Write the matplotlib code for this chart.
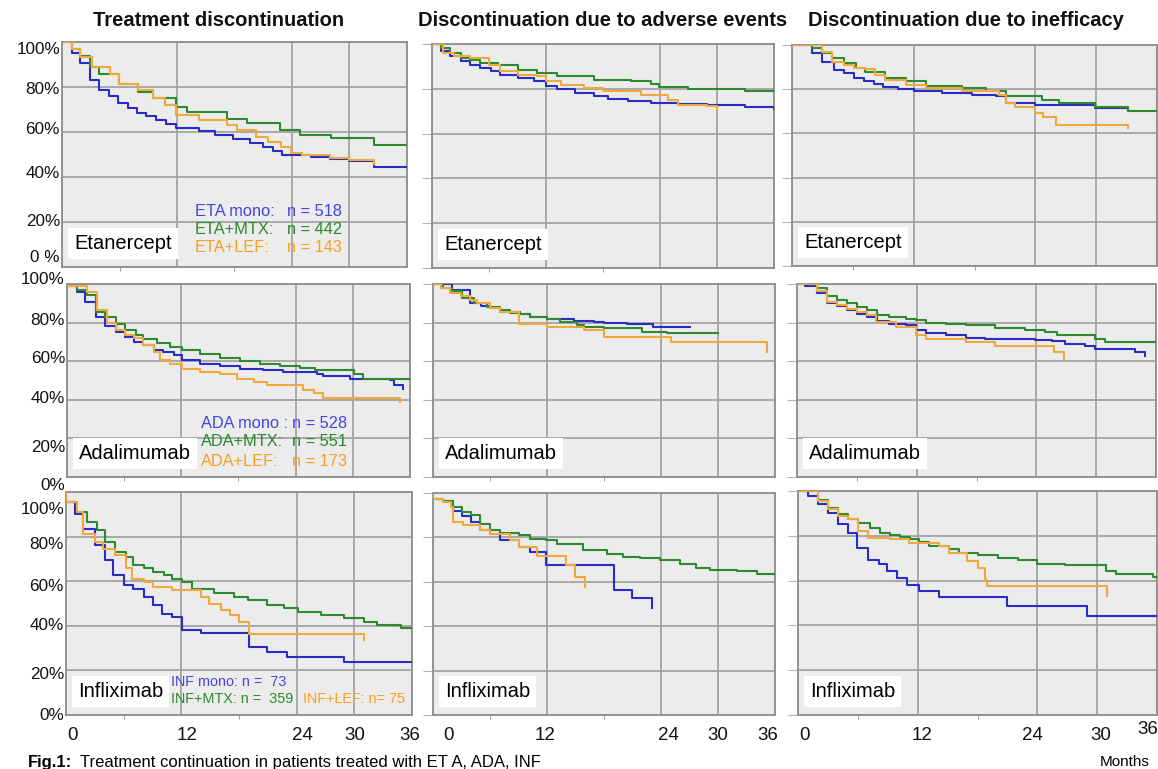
import matplotlib
matplotlib.use("Agg")
import matplotlib.pyplot as plt
from matplotlib.transforms import ScaledTranslation, blended_transform_factory

plt.rcParams['font.family'] = ['Liberation Sans', 'DejaVu Sans']

# ---------------- data (months, % still on treatment) ----------------
col_titles = ["Treatment discontinuation",
              "Discontinuation due to adverse events",
              "Discontinuation due to inefficacy"]
row_names = ["Etanercept", "Adalimumab", "Infliximab"]
x_ticks = [0, 12, 24, 30, 36]
y_ticks = [0, 20, 40, 60, 80, 100]

# Etanercept - treatment discontinuation
eta_td_mono_t = [0, 1.0, 1.9, 2.9, 3.9, 4.9, 5.8, 6.9, 7.8, 8.8, 9.8, 10.8, 11.9, 14.3, 16.0, 17.8, 19.6, 21.0, 22.0, 23.0, 26.0, 28.0, 30.0, 32.6, 36]
eta_td_mono_y = [100, 95, 90.5, 83, 78.7, 76, 73, 70.5, 68.5, 67, 65.5, 63.5, 62, 60.5, 58.5, 57, 55, 53.5, 51.5, 50, 49, 48, 47, 44.5, 44.5]
eta_td_mtx_t = [0, 1.0, 1.9, 2.9, 3.9, 5.9, 7.9, 9.5, 11.9, 13.0, 17.2, 19.3, 22.7, 24.8, 28.1, 32.6, 36]
eta_td_mtx_y = [100, 97, 94, 89, 86, 81.5, 78, 75, 71.3, 69, 66, 63.8, 61, 58.7, 57.2, 54.2, 54.2]
eta_td_lef_t = [0, 1.0, 1.9, 3.1, 5.0, 5.9, 7.9, 9.5, 10.7, 11.9, 14.3, 17.2, 18.3, 20.2, 21.5, 22.8, 23.9, 25.0, 28.0, 30.0, 32.6]
eta_td_lef_y = [100, 97, 93.5, 89, 86, 81.5, 78.7, 75, 72, 67.7, 65.5, 63, 61, 58, 55.7, 53.5, 50.5, 49.6, 48.5, 47.5, 46]

# Etanercept - adverse events
eta_ae_mono_t = [0, 0.9, 1.9, 3.0, 4.0, 5.1, 6.2, 7.2, 9.0, 10.7, 12.0, 13.2, 15.0, 17.1, 18.5, 20.6, 23.1, 25.9, 29.0, 32.9, 36]
eta_ae_mono_y = [100, 96.8, 94.6, 92.3, 90.8, 89.3, 87.8, 86.3, 84.8, 83.3, 81.1, 79.9, 78.1, 76.6, 75.4, 74.7, 73.6, 73.3, 72.9, 71.9, 71]
eta_ae_mtx_t = [0, 0.9, 1.9, 3.0, 4.0, 5.1, 6.9, 9.0, 11.1, 13.2, 17.1, 21.0, 23.1, 23.9, 26.9, 32.9, 36]
eta_ae_mtx_y = [100, 98.2, 96, 93.8, 92.8, 91.6, 90.6, 88.6, 87.1, 85.9, 84, 83.4, 82.2, 80.7, 80, 79.2, 79.2]
eta_ae_lef_t = [0, 1.2, 2.3, 4.0, 6.0, 7.2, 9.0, 11.1, 12.0, 13.6, 16.0, 18.0, 22.0, 24.8, 25.9, 29.0, 30.0]
eta_ae_lef_y = [100, 96, 94.6, 93.8, 90.8, 87.8, 86.3, 85.5, 83.3, 81.8, 80.3, 78.9, 77.4, 75.2, 72.9, 72.2, 70.7]

# Etanercept - inefficacy
eta_ie_mono_t = [0, 2.0, 3.0, 4.1, 5.1, 6.1, 7.1, 8.1, 9.0, 10.5, 12.0, 14.8, 17.8, 20.1, 21.1, 24.0, 29.9, 33.1]
eta_ie_mono_y = [100, 96.5, 92.5, 88.7, 87.2, 85, 83.5, 82.4, 81.2, 80, 79.2, 78.2, 77.4, 76.7, 73.6, 72.9, 71.4, 70.7]
eta_ie_mtx_t = [0, 2.0, 3.0, 3.9, 5.1, 6.3, 7.2, 9.2, 11.2, 13.2, 16.8, 19.1, 21.1, 24.7, 26.3, 29.9, 33.1, 36]
eta_ie_mtx_y = [100, 98.6, 96.2, 94, 91.7, 89.5, 88, 85, 83.5, 81.5, 80.4, 79, 77, 75.1, 73.6, 72.1, 70.3, 70.3]
eta_ie_lef_t = [0, 3.0, 3.9, 5.1, 6.1, 7.2, 8.2, 9.2, 11.2, 13.2, 16.8, 20.4, 21.1, 22.0, 24.0, 24.8, 26.0, 33.1]
eta_ie_lef_y = [100, 97, 92.5, 91, 89.5, 89, 86.5, 84.2, 82, 80.4, 79, 77.4, 73.6, 72.1, 69.1, 67.3, 63.8, 62.3]

# Adalimumab - treatment discontinuation
ada_td_mono_t = [0, 1.0, 1.9, 3.0, 4.0, 5.1, 6.1, 7.0, 8.0, 9.1, 10.1, 11.2, 12.1, 14.0, 16.1, 18.2, 20.6, 22.7, 26.2, 26.9, 29.7, 33.9, 34.3, 35.3]
ada_td_mono_y = [99, 96, 90.5, 83, 78, 75.3, 72.7, 70, 68.3, 65.7, 64.9, 63.1, 60.6, 58.8, 57.6, 56.2, 55.4, 54.5, 53.6, 52.2, 51, 50.2, 47.6, 45.8]
ada_td_mtx_t = [0, 1.0, 2.1, 3.0, 4.0, 5.1, 6.1, 7.2, 8.0, 9.4, 10.8, 12.1, 14.0, 16.1, 18.2, 20.3, 22.4, 24.5, 26.0, 30.1, 31.1, 36]
ada_td_mtx_y = [99, 96.9, 94.3, 85.6, 83, 79.2, 76.1, 73.5, 71.3, 69.2, 67.5, 65.7, 63.7, 61.9, 60.2, 58.8, 57.4, 56.6, 55.4, 53.6, 51, 51]
ada_td_lef_t = [0, 2.1, 3.1, 4.2, 5.1, 6.1, 7.0, 8.0, 9.1, 9.8, 10.8, 12.1, 14.0, 16.1, 17.8, 19.6, 21.0, 24.8, 25.9, 26.9, 35.0]
ada_td_lef_y = [99, 96, 86.5, 79.6, 76.1, 73.5, 71.8, 68.3, 64.9, 60.6, 58.8, 56.2, 54.5, 53.6, 51, 49.3, 47.6, 45, 43.3, 40.7, 38.9]

# Adalimumab - adverse events
ada_ae_mono_t = [0, 2.0, 3.9, 5.0, 6.0, 7.1, 9.2, 10.2, 12.0, 14.8, 16.9, 18.0, 20.4, 23.2, 27.1]
ada_ae_mono_y = [100, 97, 90, 88.7, 87.5, 85.7, 84.5, 83.1, 81.7, 81, 80.5, 79.7, 79.1, 77.9, 77.9]
ada_ae_mtx_t = [0, 1.1, 2.0, 3.1, 4.3, 5.7, 7.1, 8.1, 9.2, 10.2, 12.0, 13.4, 15.2, 15.9, 18.0, 22.0, 24.6, 30.0]
ada_ae_mtx_y = [100, 97.9, 96.2, 92.7, 90.1, 88.3, 86.6, 85.2, 84.3, 83.1, 81.7, 80.5, 78.8, 77.9, 77, 75.3, 74.4, 74.4]
ada_ae_lef_t = [0, 0.8, 1.8, 2.9, 3.9, 4.6, 6.0, 7.1, 9.0, 12.0, 15.9, 18.0, 25.0, 35.2]
ada_ae_lef_y = [100, 97.9, 95.3, 93.9, 91.8, 90, 87.5, 85.7, 79.3, 77.9, 76.2, 72.7, 70.1, 64.9]

# Adalimumab - inefficacy
ada_ie_mono_t = [0, 0.8, 2, 3, 4, 5, 6, 7, 8, 9.2, 10.9, 11.9, 12.9, 14.9, 16.9, 18.9, 23.9, 25.6, 26.9, 28.9, 29.9, 33.9, 34.9]
ada_ie_mono_y = [100, 99, 95.1, 89.9, 88.5, 86.5, 84.7, 83, 80.9, 79.5, 78.6, 76, 74.7, 73.4, 72.2, 71.7, 71.2, 70.5, 69.1, 67.7, 66.5, 64.8, 62.5]
ada_ie_mtx_t = [0, 2, 3, 4, 5, 6, 7, 8, 9.2, 10.9, 11.9, 12.9, 14.9, 16.9, 19.9, 22.9, 24.9, 26.1, 29.9, 30.9, 36]
ada_ie_mtx_y = [100, 97.7, 93.7, 91.7, 89.9, 88.2, 86.5, 83.9, 83, 82.1, 81.3, 80, 79.2, 78.6, 77.4, 76.4, 75.2, 73.4, 71.7, 70, 70]
ada_ie_lef_t = [0, 2, 3, 4, 5, 6, 7, 7.9, 9.9, 11.9, 12.9, 16.9, 19.9, 25.8, 26.8]
ada_ie_lef_y = [100, 96.5, 90.8, 89.1, 87.3, 85.6, 83.9, 80.4, 77.8, 73.4, 71.7, 70, 67.7, 64.8, 61.3]

# Infliximab - treatment discontinuation
inf_td_mono_t = [0, 0.05, 0.9, 1.8, 3.0, 4.1, 4.9, 6.0, 7.0, 8.1, 9.1, 10.0, 11.0, 12.1, 14.0, 19.0, 20.9, 23.0, 28.9, 36]
inf_td_mono_y = [100, 95.5, 90.3, 83.6, 76.1, 69.4, 62.7, 58.2, 56.3, 53, 49.3, 45.5, 44, 38.1, 36.6, 30.6, 28.4, 26.1, 23.9, 23.9]
inf_td_mtx_t = [0, 0.05, 1.1, 2.2, 3.2, 4.1, 5.1, 6.2, 7.0, 8.1, 9.1, 10.2, 11.0, 12.1, 13.1, 15.4, 17.5, 18.9, 20.9, 22.7, 24.1, 26.5, 28.9, 31.0, 32.4, 34.9, 36]
inf_td_mtx_y = [100, 95.5, 91, 86.6, 82.8, 77.6, 73.1, 70.9, 67.2, 65.7, 64.2, 62.7, 61.2, 59.7, 56.7, 54.5, 53, 51.5, 49.3, 47.8, 46.3, 44.8, 43.3, 41.8, 40.3, 38.8, 38.8]
inf_td_lef_t = [0, 0.05, 1.1, 1.8, 3.0, 3.9, 5.1, 6.2, 6.9, 8.1, 9.1, 11.0, 14.0, 14.9, 16.1, 17.1, 18.0, 19.0, 31.0]
inf_td_lef_y = [100, 95.5, 91, 81.3, 77.6, 74.6, 71.6, 65.7, 61.2, 59.7, 57.5, 56, 53, 50, 47, 44.8, 41.8, 36.3, 33.6]

# Infliximab - adverse events
inf_ae_mono_t = [0, 0.05, 1.1, 2.1, 3.0, 4.0, 4.9, 6.0, 7.0, 9.1, 10.2, 11.9, 19.0, 20.9, 23.0]
inf_ae_mono_y = [100, 97.5, 96.4, 91.9, 89.5, 87, 83.2, 81.7, 78.7, 75.7, 73.5, 67.5, 56.2, 52.5, 48]
inf_ae_mtx_t = [0, 0.05, 1.1, 2.1, 3.0, 4.0, 4.9, 6.0, 7.0, 9.1, 10.2, 11.9, 13.0, 15.8, 18.3, 20.0, 21.8, 23.9, 26.0, 27.7, 29.2, 32.0, 34.1, 36]
inf_ae_mtx_y = [100, 97.5, 96.4, 93.7, 91.5, 90, 86.2, 83.5, 82, 81, 79.5, 78.7, 77.2, 74.2, 72.4, 71.2, 70.5, 69.7, 68.2, 66.4, 65.5, 64.9, 63.4, 63.4]
inf_ae_lef_t = [0, 0.05, 1.1, 1.9, 2.1, 3.2, 4.9, 6.0, 8.1, 9.1, 10.9, 14.0, 14.9, 16.0]
inf_ae_lef_y = [100, 97.5, 96, 93.7, 87, 85.5, 83.5, 81.7, 78.7, 75.7, 71.5, 67.5, 62.2, 57.7]

# Infliximab - inefficacy
inf_ie_mono_t = [0, 1.0, 2.0, 3.0, 4.0, 5.0, 5.9, 7.0, 8.1, 8.9, 9.9, 10.9, 12.1, 14.1, 21.0, 29.0, 36]
inf_ie_mono_y = [100, 97.8, 94, 90.3, 85.1, 81.3, 74.6, 69.4, 67.2, 64.2, 61.2, 58.2, 55.2, 52.5, 48.5, 44, 44]
inf_ie_mtx_t = [0, 2.0, 3.0, 4.0, 5.0, 6.0, 7.2, 8.2, 9.2, 10.2, 11.2, 12.1, 13.1, 15.1, 16.1, 18.1, 20.1, 22.1, 24.0, 26.8, 30.9, 31.9, 35.6, 36]
inf_ie_mtx_y = [100, 95.8, 92.5, 89.9, 87.6, 85.8, 83.6, 81.3, 80.3, 79.4, 78.4, 77.2, 75.4, 73.9, 72.4, 71.3, 70.1, 69, 67.5, 66.9, 64.5, 63, 61.5, 61.5]
inf_ie_lef_t = [0, 2.0, 3.0, 4.0, 5.0, 6.0, 7.0, 9.2, 11.1, 14.1, 15.1, 16.9, 18.0, 18.8, 19.0, 31.0]
inf_ie_lef_y = [100, 95.5, 91.8, 88.8, 87.3, 82.1, 79.1, 78.4, 76.9, 75.4, 72.4, 68.7, 65.7, 60.4, 57.5, 53]

# legend text for the first column
eta_groups = ["ETA mono:", "ETA+MTX:", "ETA+LEF:"]
eta_n = ["n = 518", "n = 442", "n = 143"]
ada_groups = ["ADA mono :", "ADA+MTX:", "ADA+LEF:"]
ada_n = ["n = 528", "n = 551", "n = 173"]
inf_legend = ["INF mono: n =  73", "INF+MTX: n =  359", "INF+LEF: n= 75"]

caption_bold = "Fig.1:"
caption_text = "Treatment continuation in patients treated with ET A, ADA, INF"
x_unit = "Months"

# ---------------- styling ----------------
W, H = 1158, 769
fig = plt.figure(figsize=(W / 100, H / 100), dpi=100)

LINE_C = ['#2b2bc8', '#2e8a2e', '#f2a93b']   # mono, +MTX, +LEF
TEXT_C = ['#4545e0', '#2a8a2a', '#f5a01f']
BG = '#ececec'
GRID = '#a3a3a3'
SPINE = '#8e8e8e'

boxes = [[(62, 42, 407, 267), (432, 44, 774, 268), (792, 45, 1157, 266)],
         [(67, 284, 410, 477), (433, 284, 775, 477), (797, 284, 1156, 477)],
         [(66, 492, 412, 715), (433, 493, 775, 715), (798, 491, 1157, 715)]]

series = [
    [[(eta_td_mono_t, eta_td_mono_y), (eta_td_mtx_t, eta_td_mtx_y), (eta_td_lef_t, eta_td_lef_y)],
     [(eta_ae_mono_t, eta_ae_mono_y), (eta_ae_mtx_t, eta_ae_mtx_y), (eta_ae_lef_t, eta_ae_lef_y)],
     [(eta_ie_mono_t, eta_ie_mono_y), (eta_ie_mtx_t, eta_ie_mtx_y), (eta_ie_lef_t, eta_ie_lef_y)]],
    [[(ada_td_mono_t, ada_td_mono_y), (ada_td_mtx_t, ada_td_mtx_y), (ada_td_lef_t, ada_td_lef_y)],
     [(ada_ae_mono_t, ada_ae_mono_y), (ada_ae_mtx_t, ada_ae_mtx_y), (ada_ae_lef_t, ada_ae_lef_y)],
     [(ada_ie_mono_t, ada_ie_mono_y), (ada_ie_mtx_t, ada_ie_mtx_y), (ada_ie_lef_t, ada_ie_lef_y)]],
    [[(inf_td_mono_t, inf_td_mono_y), (inf_td_mtx_t, inf_td_mtx_y), (inf_td_lef_t, inf_td_lef_y)],
     [(inf_ae_mono_t, inf_ae_mono_y), (inf_ae_mtx_t, inf_ae_mtx_y), (inf_ae_lef_t, inf_ae_lef_y)],
     [(inf_ie_mono_t, inf_ie_mono_y), (inf_ie_mtx_t, inf_ie_mtx_y), (inf_ie_lef_t, inf_ie_lef_y)]],
]

ylab_rows = [["0 %", "20%", "40%", "60%", "80%", "100%"],
             ["0%", "20%", "40%", "60%", "80%", "100%"],
             ["0%", "20%", "40%", "60%", "80%", "100%"]]
# vertical nudges of the y labels (pixels, + = up)
ylab_dy = [[10, 0, 4, 3, -2, -8],
           [-8, -9, 1, 3, 2, 4],
           [0, -4, 0, -5, -8, -17]]
# horizontal nudges of x labels on the bottom row (pixels)
xlab_dx = [[6, 6, 6, 0, -2], [15, -2, 7, 0, -7], [7, 4, -5, 4, -9]]


def px(dx, dy):
    return ScaledTranslation(dx / 100, dy / 100, fig.dpi_scale_trans)


for r in range(3):
    for c in range(3):
        x0, y0, x1, y1 = boxes[r][c]
        ax = fig.add_axes([x0 / W, 1 - y1 / H, (x1 - x0) / W, (y1 - y0) / H])
        ax.set_facecolor(BG)
        ax.set_xlim(0, 36)
        ax.set_ylim(0, 100)
        ax.set_xticks(x_ticks)
        ax.set_xticks([6, 18], minor=True)
        ax.set_yticks(y_ticks)
        ax.grid(True, which='major', color=GRID, lw=1.3)
        ax.set_axisbelow(True)
        for sp in ax.spines.values():
            sp.set_color(SPINE)
            sp.set_linewidth(1.3)
        ax.tick_params(axis='x', which='major', length=0, labelbottom=False)
        ax.tick_params(axis='x', which='minor', length=3, color=SPINE, direction='out')
        if c == 0:
            ax.tick_params(axis='y', length=0, labelleft=False)
        else:
            ax.tick_params(axis='y', length=7, color='#b5b5b5', labelleft=False)

        for k in range(3):
            t, y = series[r][c][k]
            ax.step(t, y, where='post', color=LINE_C[k], lw=1.5, zorder=3 + k)

        # panel label in white box
        ax.annotate(row_names[r], xy=(0, 0), xycoords='axes fraction',
                    xytext=(12, 14), textcoords='offset pixels',
                    ha='left', va='bottom', fontsize=14.5, color='black', zorder=10,
                    bbox=dict(boxstyle='square,pad=0.3', facecolor='white', edgecolor='none'))

        # y labels (first column only)
        if c == 0:
            tr = blended_transform_factory(ax.transAxes, ax.transData)
            for v, lab, dy in zip(y_ticks, ylab_rows[r], ylab_dy[r]):
                ax.text(0, v, lab, transform=tr + px(-2, dy), ha='right', va='center',
                        fontsize=12.3, color='#111111')

        # x labels (bottom row only)
        if r == 2:
            tr = blended_transform_factory(ax.transData, ax.transAxes)
            for v, dx in zip(x_ticks, xlab_dx[c]):
                dy = -20
                if c == 2 and v == 36:
                    dy = -14
                ax.text(v, 0, str(v), transform=tr + px(dx, dy), ha='center', va='center',
                        fontsize=13.5, color='#111111')

# column titles
title_x = [219, 603, 966]
for tx, title in zip(title_x, col_titles):
    fig.text(tx / W, 1 - 20 / H, title, ha='center', va='center',
             fontsize=14.5, fontweight='bold', color='#111111')

# legends in the first column
for i in range(3):
    yy = [212, 230, 248][i]
    fig.text(195 / W, 1 - yy / H, eta_groups[i], ha='left', va='center', fontsize=11.8, color=TEXT_C[i])
    fig.text(287 / W, 1 - yy / H, eta_n[i], ha='left', va='center', fontsize=11.8, color=TEXT_C[i])
for i in range(3):
    yy = [423, 442, 461][i]
    fig.text(201 / W, 1 - yy / H, ada_groups[i], ha='left', va='center', fontsize=11.8, color=TEXT_C[i])
    fig.text(292 / W, 1 - yy / H, ada_n[i], ha='left', va='center', fontsize=11.8, color=TEXT_C[i])
inf_pos = [(171, 682), (171, 699), (303, 699)]
for i, (xx, yy) in enumerate(inf_pos):
    fig.text(xx / W, 1 - yy / H, inf_legend[i], ha='left', va='center', fontsize=10.4, color=TEXT_C[i])

# caption and unit
fig.text(28 / W, 1 - 762 / H, caption_bold, ha='left', va='center', fontsize=12, fontweight='bold')
fig.text(80 / W, 1 - 762 / H, caption_text, ha='left', va='center', fontsize=12)
fig.text(1125 / W, 1 - 762 / H, x_unit, ha='center', va='center', fontsize=11)

fig.savefig("out.png", dpi=100, facecolor='white')
